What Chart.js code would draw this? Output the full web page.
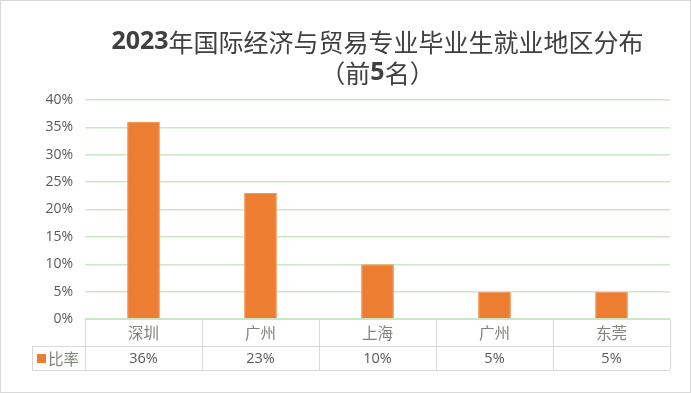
<!DOCTYPE html>
<html>
<head>
<meta charset="utf-8">
<script src="https://cdn.jsdelivr.net/npm/chart.js@4"></script>
<style>
  html, body { margin: 0; padding: 0; background: #fff; }
  #wrap { width: 691px; height: 393px; }
</style>
</head>
<body>
<div id="wrap"><canvas id="regionChart" width="691" height="393"></canvas></div>
<script>
// Data
const cities = ['深圳', '广州', '上海', '广州', '东莞'];
const shares = [36, 23, 10, 5, 5];
const yTicks = [0, 5, 10, 15, 20, 25, 30, 35, 40];
const seriesName = '比率';
const titleLines = ['2023年国际经济与贸易专业毕业生就业地区分布', '（前5名）'];

const barColor = '#ED7D31';
const gridColor = '#CBE9C6';
const lineColor = '#D9D9D9';
const cjkFont = '"Noto Sans CJK SC", "Noto Sans", sans-serif';
const numFont = '"Open Sans", "Noto Sans", sans-serif';

// title text: digits bold, Chinese characters regular (like the Excel original)
function drawTitleLine(ctx, text, cx, y) {
    const runs = [];
    for (const ch of text) {
        const bold = /[0-9]/.test(ch);
        const last = runs[runs.length - 1];
        if (last && last.bold === bold) last.text += ch;
        else runs.push({ text: ch, bold: bold });
    }
    const fontOf = r => r.bold ? 'bold 25px ' + numFont : '25px ' + cjkFont;
    let total = 0;
    runs.forEach(r => { ctx.font = fontOf(r); r.w = ctx.measureText(r.text).width; total += r.w; });
    let x = cx - total / 2;
    ctx.textAlign = 'left';
    runs.forEach(r => { ctx.font = fontOf(r); ctx.fillText(r.text, x, y); x += r.w; });
}

// draws the title, the Excel-style data table and the outer frame
const tablePlugin = {
    id: 'dataTable',
    afterDraw(chart) {
        const ctx = chart.ctx;
        const area = chart.chartArea;
        const x = chart.scales.x;
        const step = (area.right - area.left) / cities.length;
        const row1 = area.bottom + 27;
        const row2 = row1 + 24;
        const tableLeft = 32;

        ctx.save();

        // title
        ctx.fillStyle = '#404040';
        ctx.textBaseline = 'middle';
        const cx = (area.left + area.right) / 2;
        drawTitleLine(ctx, titleLines[0], cx, 42);
        drawTitleLine(ctx, titleLines[1], cx, 73);
        ctx.textAlign = 'center';

        // table lines
        ctx.strokeStyle = lineColor;
        ctx.lineWidth = 1;
        ctx.beginPath();
        ctx.moveTo(area.left, area.bottom + 0.5);
        ctx.lineTo(area.right, area.bottom + 0.5);
        ctx.moveTo(tableLeft, row1 + 0.5);
        ctx.lineTo(area.right, row1 + 0.5);
        ctx.moveTo(tableLeft, row2 + 0.5);
        ctx.lineTo(area.right, row2 + 0.5);
        ctx.moveTo(tableLeft + 0.5, row1);
        ctx.lineTo(tableLeft + 0.5, row2);
        for (let i = 0; i <= cities.length; i++) {
            const lx = Math.round(area.left + i * step) + 0.5;
            ctx.moveTo(lx, area.bottom);
            ctx.lineTo(lx, row2);
        }
        ctx.stroke();

        // category row and value row
        cities.forEach((name, i) => {
            const px = x.getPixelForValue(i);
            ctx.fillStyle = '#7F857A';
            ctx.font = '15.5px ' + cjkFont;
            ctx.fillText(name, px, (area.bottom + row1) / 2 + 1);
            ctx.fillStyle = '#595959';
            ctx.font = '14.5px ' + numFont;
            ctx.fillText(shares[i] + '%', px, (row1 + row2) / 2 + 1);
        });

        // legend key inside the table
        ctx.fillStyle = barColor;
        ctx.fillRect(37, (row1 + row2) / 2 - 4, 9, 9);
        ctx.fillStyle = '#7F857A';
        ctx.textAlign = 'left';
        ctx.font = '15.5px ' + cjkFont;
        ctx.fillText(seriesName, 48, (row1 + row2) / 2 + 1);

        // outer frame
        ctx.strokeStyle = lineColor;
        ctx.strokeRect(0.5, 0.5, chart.width - 1, chart.height - 1);
        ctx.restore();
    }
};

new Chart(document.getElementById('regionChart'), {
    type: 'bar',
    data: {
        labels: cities,
        datasets: [{
            label: seriesName,
            data: shares,
            backgroundColor: barColor,
            borderColor: '#F19657',
            borderWidth: 1,
            categoryPercentage: 1,
            barPercentage: 0.28
        }]
    },
    options: {
        responsive: false,
        animation: false,
        layout: { padding: { top: 100, right: 21, bottom: 74, left: 0 } },
        plugins: {
            legend: { display: false },
            title: { display: false },
            tooltip: { enabled: false }
        },
        scales: {
            x: { display: false },
            y: {
                min: 0,
                max: 40,
                afterFit(scale) { scale.width = 85; },
                afterBuildTicks(scale) { scale.ticks = yTicks.map(v => ({ value: v })); },
                border: { display: false },
                grid: {
                    color: gridColor,
                    lineWidth: 1.5,
                    drawTicks: false
                },
                ticks: {
                    padding: 12,
                    color: '#595959',
                    font: { family: numFont, size: 14 },
                    callback: v => v + '%'
                }
            }
        }
    },
    plugins: [tablePlugin]
});
</script>
</body>
</html>
